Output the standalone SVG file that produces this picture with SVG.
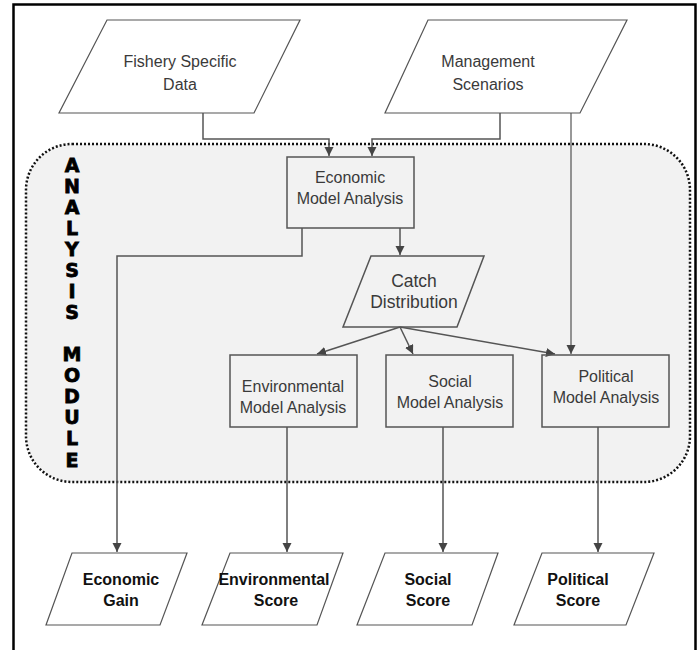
<svg xmlns="http://www.w3.org/2000/svg" width="700" height="650" viewBox="0 0 700 650">
<defs>
<marker id="ah" markerUnits="userSpaceOnUse" markerWidth="10" markerHeight="10" refX="9" refY="4.5" orient="auto">
<path d="M0,0 L9,4.5 L0,9 z" fill="#444"/>
</marker>
<style>
.frame{fill:none;stroke:#000;stroke-width:2.5}
.module{fill:#f2f2f2;stroke:#111;stroke-width:2.5;stroke-dasharray:2 2}
.box{fill:none;stroke:#555;stroke-width:1.5}
.io{fill:#fff;stroke:#555;stroke-width:1.2}
.conn{fill:none;stroke:#555;stroke-width:1.5}
.thin{fill:none;stroke:#333;stroke-width:1}
.t{font-family:"Liberation Sans",Arial,sans-serif;font-size:16px;fill:#3a3a3a;text-anchor:middle}
.tc{font-family:"Liberation Sans",Arial,sans-serif;font-size:17.5px;fill:#3a3a3a;text-anchor:middle}
.tb{font-family:"Liberation Sans",Arial,sans-serif;font-size:16px;font-weight:bold;fill:#111;text-anchor:middle}
.vert{font-family:"DejaVu Sans",sans-serif;font-size:19px;font-weight:bold;fill:#000;stroke:#000;stroke-width:0.8;text-anchor:middle}
</style>
</defs>
<rect width="700" height="650" fill="#fff"/>
<path class="frame" d="M13.5,651 V4.5 H695.5 V651"/>
<g id="analysis-module">
<rect class="module" x="26" y="144" width="664" height="338" rx="46" ry="46"/>
<text class="vert"><tspan x="72" y="172">A</tspan><tspan x="72" y="193">N</tspan><tspan x="72" y="214">A</tspan><tspan x="72" y="235">L</tspan><tspan x="72" y="256">Y</tspan><tspan x="72" y="277">S</tspan><tspan x="72" y="298">I</tspan><tspan x="72" y="319">S</tspan><tspan x="72" y="361">M</tspan><tspan x="72" y="382">O</tspan><tspan x="72" y="403">D</tspan><tspan x="72" y="424">U</tspan><tspan x="72" y="445">L</tspan><tspan x="72" y="467">E</tspan></text>
</g>
<g id="connectors">
<path class="conn" d="M203,113 V139 H329 V156" marker-end="url(#ah)"/>
<path class="conn" d="M500,113 V139 H372 V156" marker-end="url(#ah)"/>
<path class="thin" d="M571,113 V354" marker-end="url(#ah)"/>
<path class="conn" d="M400,228 V255" marker-end="url(#ah)"/>
<path class="conn" d="M302,228 V256 H117 V552" marker-end="url(#ah)"/>
<path class="conn" d="M400,327 L317,354" marker-end="url(#ah)"/>
<path class="conn" d="M400,327 L413,354" marker-end="url(#ah)"/>
<path class="conn" d="M400,327 L555,354" marker-end="url(#ah)"/>
<path class="conn" d="M287,427 V552" marker-end="url(#ah)"/>
<path class="conn" d="M443,427 V552" marker-end="url(#ah)"/>
<path class="conn" d="M598,427 V552" marker-end="url(#ah)"/>
</g>
<g id="fishery-data">
<polygon class="io" points="107,20 300,20 254,113 59,113"/>
<text class="t" x="180" y="67">Fishery Specific</text>
<text class="t" x="180" y="90">Data</text>
</g>
<g id="management-scenarios">
<polygon class="io" points="428,20 627,20 580,113 385,113"/>
<text class="t" x="488" y="67">Management</text>
<text class="t" x="488" y="90">Scenarios</text>
</g>
<g id="economic-model">
<rect class="box" x="287" y="157" width="127" height="71"/>
<text class="t" x="350" y="183">Economic</text>
<text class="t" x="350" y="204">Model Analysis</text>
</g>
<g id="catch-distribution">
<polygon class="box" points="371,256 484,256 457,327 343,327"/>
<text class="tc" x="414" y="287">Catch</text>
<text class="tc" x="414" y="308">Distribution</text>
</g>
<g id="environmental-model">
<rect class="box" x="230" y="355" width="127" height="72"/>
<text class="t" x="293" y="392">Environmental</text>
<text class="t" x="293" y="413">Model Analysis</text>
</g>
<g id="social-model">
<rect class="box" x="386" y="355" width="127" height="72"/>
<text class="t" x="450" y="387">Social</text>
<text class="t" x="450" y="408">Model Analysis</text>
</g>
<g id="political-model">
<rect class="box" x="542" y="355" width="127" height="72"/>
<text class="t" x="606" y="382">Political</text>
<text class="t" x="606" y="403">Model Analysis</text>
</g>
<g id="economic-gain">
<polygon class="io" points="72,553 187,553 160,625 46,625"/>
<text class="tb" x="121" y="585">Economic</text>
<text class="tb" x="121" y="606">Gain</text>
</g>
<g id="environmental-score">
<polygon class="io" points="230,553 343,553 317,625 202,625"/>
<text class="tb" x="274" y="585">Environmental</text>
<text class="tb" x="276" y="606">Score</text>
</g>
<g id="social-score">
<polygon class="io" points="385,553 498,553 472,625 357,625"/>
<text class="tb" x="428" y="585">Social</text>
<text class="tb" x="428" y="606">Score</text>
</g>
<g id="political-score">
<polygon class="io" points="542,553 654,553 626,625 514,625"/>
<text class="tb" x="578" y="585">Political</text>
<text class="tb" x="578" y="606">Score</text>
</g>
</svg>
